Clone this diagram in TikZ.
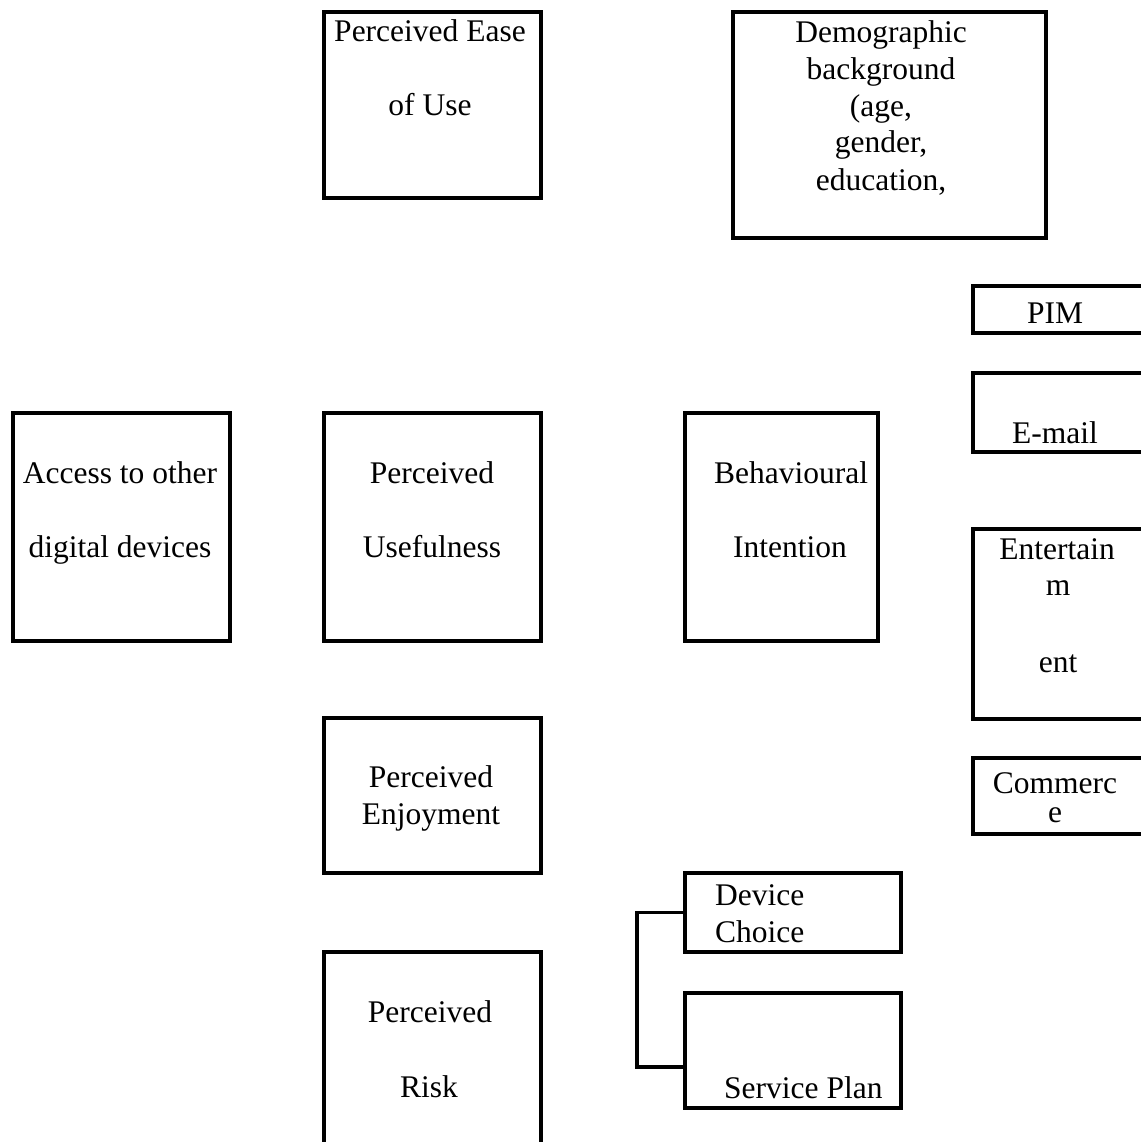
\documentclass[tikz,border=0pt]{standalone}
\usepackage{fontspec}
\setmainfont{Liberation Serif}
\begin{document}
\begin{tikzpicture}[x=1pt,y=-1pt,
  box/.style={draw=black,line width=3.5pt,inner sep=0pt,rectangle},
  lbl/.style={anchor=base,inner sep=0pt,font=\fontsize{31.5}{37}\selectfont},
  lbll/.style={anchor=base west,inner sep=0pt,font=\fontsize{31.5}{37}\selectfont},
  link/.style={draw=black,line width=3.5pt}]
\useasboundingbox[fill=white] (0,0) rectangle (1140,1142);
% boxes
\node[box,minimum width=217pt,minimum height=186pt] (peou) at (432.5,105) {};
\node[box,minimum width=313pt,minimum height=226pt] (demo) at (889.5,125) {};
\node[box,minimum width=187pt,minimum height=47pt] (pim) at (1066.5,309.5) {};
\node[box,minimum width=187pt,minimum height=79pt] (email) at (1066.5,412.5) {};
\node[box,minimum width=187pt,minimum height=190pt] (ent) at (1066.5,624) {};
\node[box,minimum width=187pt,minimum height=76pt] (com) at (1066.5,796) {};
\node[box,minimum width=217pt,minimum height=228pt] (acc) at (121.5,527) {};
\node[box,minimum width=217pt,minimum height=228pt] (pu) at (432.5,527) {};
\node[box,minimum width=193pt,minimum height=228pt] (bi) at (781.5,527) {};
\node[box,minimum width=217pt,minimum height=155pt] (pe) at (432.5,795.5) {};
\node[box,minimum width=217pt,minimum height=208pt] (pr) at (432.5,1056) {};
\node[box,minimum width=216pt,minimum height=79pt] (dc) at (793,912.5) {};
\node[box,minimum width=216pt,minimum height=115pt] (sp) at (793,1050.5) {};
% texts
\node[lbl] (peou1) at (430,42) {Perceived Ease};
\node[lbl] (peou2) at (430,116) {of Use};
\node[lbl] (demo1) at (881,43) {Demographic};
\node[lbl] (demo2) at (881,80) {background};
\node[lbl] (demo3) at (881,117) {(age,};
\node[lbl] (demo4) at (881,153) {gender,};
\node[lbl] (demo5) at (881,190) {education,};
\node[lbl] (pimt) at (1055,323) {PIM};
\node[lbl] (emailt) at (1055,443) {E-mail};
\node[lbl] (ent1) at (1057,559) {Entertain};
\node[lbl] (ent2) at (1058,595) {m};
\node[lbl] (ent3) at (1058,672) {ent};
\node[lbl] (com1) at (1055,793) {Commerc};
\node[lbl] (com2) at (1055,822) {e};
\node[lbl] (acc1) at (120,483) {Access to other};
\node[lbl] (acc2) at (120,557) {digital devices};
\node[lbl] (pu1) at (432,483) {Perceived};
\node[lbl] (pu2) at (432,557) {Usefulness};
\node[lbl] (bi1) at (791,483) {Behavioural};
\node[lbl] (bi2) at (790,557) {Intention};
\node[lbl] (pe1) at (431,787) {Perceived};
\node[lbl] (pe2) at (431,824) {Enjoyment};
\node[lbl] (pr1) at (430,1022) {Perceived};
\node[lbl] (pr2) at (429,1097) {Risk};
\node[lbll] (dc1) at (715,905) {Device};
\node[lbll] (dc2) at (715,942) {Choice};
\node[lbll] (sp1) at (724,1098) {Service Plan};
% bracket connector
\coordinate (spj) at (sp.west |- 0,1067);
\draw[link] (dc.west) -| (637,1067) -- (spj);
\end{tikzpicture}
\end{document}
